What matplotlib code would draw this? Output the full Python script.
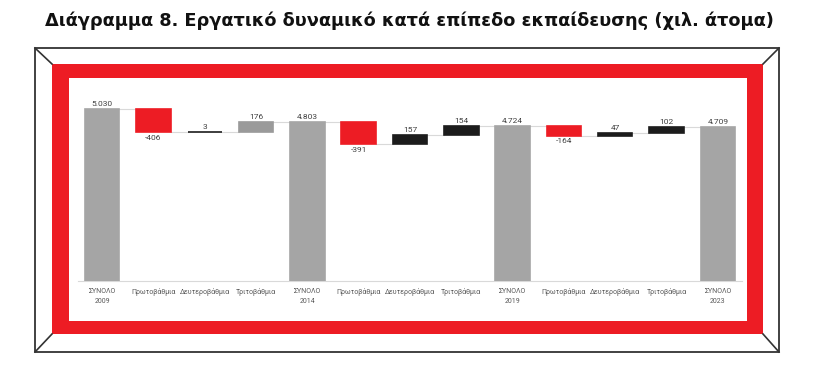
import matplotlib.pyplot as plt
from matplotlib.patches import Rectangle

# Chart data (thousands of persons)
categories = ["ΣΥΝΟΛΟ\n2009", "Πρωτοβάθμια", "Δευτεροβάθμια", "Τριτοβάθμια",
              "ΣΥΝΟΛΟ\n2014", "Πρωτοβάθμια", "Δευτεροβάθμια", "Τριτοβάθμια",
              "ΣΥΝΟΛΟ\n2019", "Πρωτοβάθμια", "Δευτεροβάθμια", "Τριτοβάθμια",
              "ΣΥΝΟΛΟ\n2023"]
values = [5030, -406, 3, 176, 4803, -391, 157, 154, 4724, -164, 47, 102, 4709]
is_total = [True, False, False, False, True, False, False, False,
            True, False, False, False, True]

title = "Διάγραμμα 8. Εργατικό δυναμικό κατά επίπεδο εκπαίδευσης (χιλ. άτομα)"

# Styles
GREY = "#a5a5a5"
GREY2 = "#9a9a9a"
RED = "#ed1c24"
BLACK = "#1c1c1c"
bar_colors = [GREY, RED, BLACK, GREY2, GREY, RED, BLACK, BLACK,
              GREY, RED, BLACK, BLACK, GREY]
small_font = ["Liberation Sans Narrow", "Roboto", "DejaVu Sans"]

W, H = 835, 371
fig = plt.figure(figsize=(W / 100, H / 100), dpi=100)

# Background frame in pixel coords
bg = fig.add_axes([0, 0, 1, 1], zorder=0)
bg.set_xlim(0, W)
bg.set_ylim(H, 0)
bg.axis("off")
bg.add_patch(Rectangle((35, 48), 744, 304, facecolor="white", edgecolor="#333333", lw=1.3))
bg.add_patch(Rectangle((52, 64), 711, 270, facecolor=RED, edgecolor="none"))
bg.add_patch(Rectangle((69, 78), 678, 243, facecolor="white", edgecolor="none"))
for (x0, y0), (x1, y1) in [((35, 48), (52, 64)), ((779, 48), (763, 64)),
                           ((779, 352), (763, 334)), ((35, 352), (52, 334))]:
    bg.plot([x0, x1], [y0, y1], color="#333333", lw=1.2)

fig.text(409 / W, 1 - 21 / H, title, ha="center", va="center",
         fontsize=12.8, fontweight="heavy", color="#111111")

# Chart axes: left 78px, right 742px, bottom 281px, top 90px
ax = fig.add_axes([78 / W, 1 - 281 / H, 664 / W, 191 / H], zorder=1)
ax.patch.set_alpha(0)
ymin, ymax = 2000, 5362

bottoms, tops = [], []
level = 0
for v, tot in zip(values, is_total):
    if tot:
        bottoms.append(0)
        tops.append(v)
        level = v
    else:
        bottoms.append(min(level, level + v))
        tops.append(max(level, level + v))
        level = level + v

x = list(range(len(values)))
bw = 0.67
heights = [t - b for t, b in zip(tops, bottoms)]
ax.bar(x, heights, bottom=bottoms, width=bw, color=bar_colors,
       edgecolor=bar_colors, linewidth=1.2, zorder=3)

# connectors
level = 0
for i, (v, tot) in enumerate(zip(values, is_total)):
    level = v if tot else level + v
    if i < len(values) - 1:
        ax.plot([i + bw / 2, i + 1 - bw / 2], [level, level],
                color="#d9d9d9", lw=0.8, zorder=2)

# labels
for i, (v, tot) in enumerate(zip(values, is_total)):
    txt = f"{v:,}".replace(",", ".")
    if v < 0:
        ax.annotate(txt, (i, bottoms[i]), xytext=(0, -2), textcoords="offset points",
                    ha="center", va="top", fontsize=6, color="#404040", family=small_font)
    else:
        ax.annotate(txt, (i, tops[i]), xytext=(0, 1.5), textcoords="offset points",
                    ha="center", va="bottom", fontsize=6, color="#404040", family=small_font)

ax.set_xlim(-0.47, 12.47)
ax.set_ylim(ymin, ymax)
ax.set_xticks(x)
ax.set_xticklabels(categories, fontsize=5.0, color="#595959", linespacing=1.7,
                   family=small_font)
ax.tick_params(axis="x", length=0, pad=5)
ax.set_yticks([])
for s in ["top", "right", "left"]:
    ax.spines[s].set_visible(False)
ax.spines["bottom"].set_color("#d9d9d9")
ax.spines["bottom"].set_linewidth(0.8)

fig.savefig("out.png", dpi=100)
